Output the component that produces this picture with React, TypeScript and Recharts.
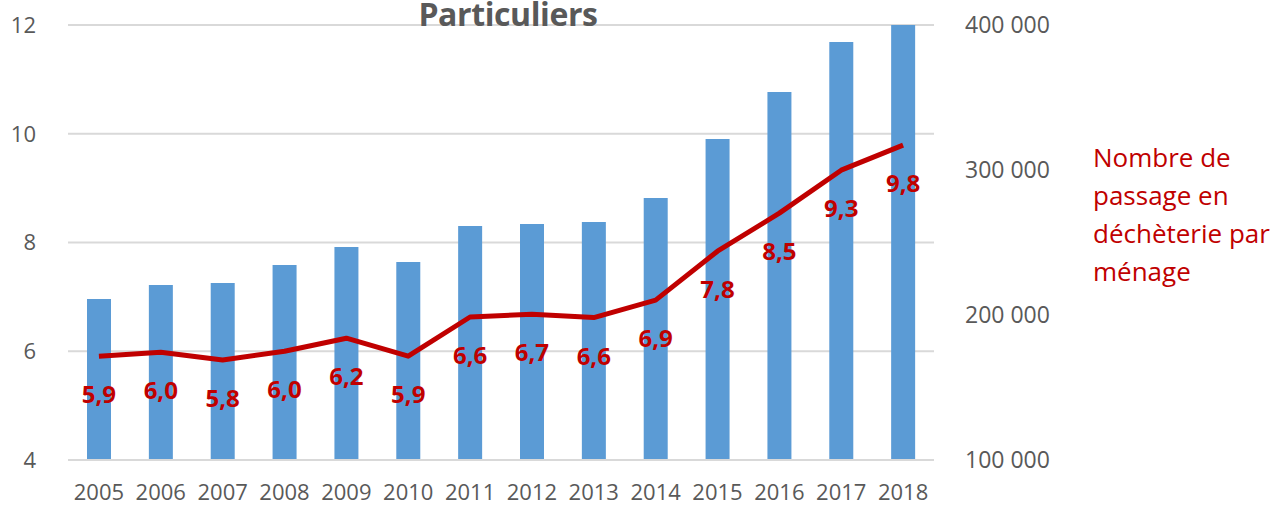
import React from 'react';
import { ComposedChart, Bar, Line, XAxis, YAxis, CartesianGrid, LabelList } from 'recharts';

const years = ['2005', '2006', '2007', '2008', '2009', '2010', '2011', '2012', '2013', '2014', '2015', '2016', '2017', '2018'];
// nombre de passages (axe de droite)
const passages = [211000, 220700, 222000, 234500, 246900, 236500, 261400, 262800, 264100, 280700, 321400, 353800, 388300, 400700];
// passages par ménage (axe de gauche)
const parMenage = [5.91, 5.98, 5.84, 6.0, 6.24, 5.91, 6.63, 6.68, 6.62, 6.94, 7.84, 8.54, 9.33, 9.79];

const leftTicks = [4, 6, 8, 10, 12];
const rightTicks = [100000, 200000, 300000, 400000];

const data = years.map((year, i) => ({ year, passages: passages[i], menage: parMenage[i] }));

const FONT = '"Open Sans", sans-serif';
const GREY = '#595959';
const RED = '#c00000';

const fmtThousands = (n: number) => String(n).replace(/\B(?=(\d{3})+(?!\d))/g, ' ');

const renderLabel = (props: any) => {
  const { x, y, value } = props;
  return (
    <text
      x={x}
      y={y + 47}
      textAnchor="middle"
      fill={RED}
      fontFamily={FONT}
      fontWeight={700}
      fontSize={24}
    >
      {Number(value).toFixed(1).replace('.', ',')}
    </text>
  );
};

export default function App() {
  return (
    <div style={{ position: 'absolute', left: 0, top: 0, width: 1286, height: 506, background: '#fff', fontFamily: FONT }}>
      <ComposedChart width={1286} height={506} data={data} margin={{ top: 25, right: 0, bottom: 0, left: 0 }}>
        <CartesianGrid yAxisId="left" vertical={false} stroke="#d9d9d9" strokeWidth={2} />
        <XAxis
          dataKey="year"
          height={46}
          axisLine={{ stroke: '#d9d9d9', strokeWidth: 2 }}
          tickLine={false}
          tickMargin={18}
          tick={{ fill: GREY, fontSize: 22, fontFamily: FONT }}
          interval={0}
        />
        <YAxis
          yAxisId="left"
          orientation="left"
          width={68}
          domain={[4, 12]}
          ticks={leftTicks}
          axisLine={false}
          tickLine={false}
          tickMargin={26}
          tick={{ fill: GREY, fontSize: 22, fontFamily: FONT }}
        />
        <YAxis
          yAxisId="right"
          orientation="right"
          width={352}
          domain={[100000, 400000]}
          ticks={rightTicks}
          allowDataOverflow
          axisLine={false}
          tickLine={false}
          tickMargin={25}
          tickFormatter={fmtThousands}
          tick={{ fill: GREY, fontSize: 23, fontFamily: FONT, textAnchor: 'start' }}
        />
        <Bar yAxisId="right" dataKey="passages" fill="#5b9bd5" barSize={24} isAnimationActive={false} />
        <Line
          yAxisId="left"
          dataKey="menage"
          type="linear"
          stroke={RED}
          strokeWidth={5}
          strokeLinejoin="round"
          dot={false}
          isAnimationActive={false}
        >
          <LabelList dataKey="menage" content={renderLabel} />
        </Line>
      </ComposedChart>
      <div
        style={{
          position: 'absolute', left: 398, top: -1, width: 220, textAlign: 'center',
          fontSize: 32, lineHeight: '30px', fontWeight: 700, color: GREY, letterSpacing: -0.4,
        }}
      >
        Particuliers
      </div>
      <div
        style={{
          position: 'absolute', left: 1093, top: 138, width: 200,
          fontSize: 26, lineHeight: '38px', color: RED,
        }}
      >
        Nombre de<br />passage en<br />déchèterie par<br />ménage
      </div>
    </div>
  );
}
